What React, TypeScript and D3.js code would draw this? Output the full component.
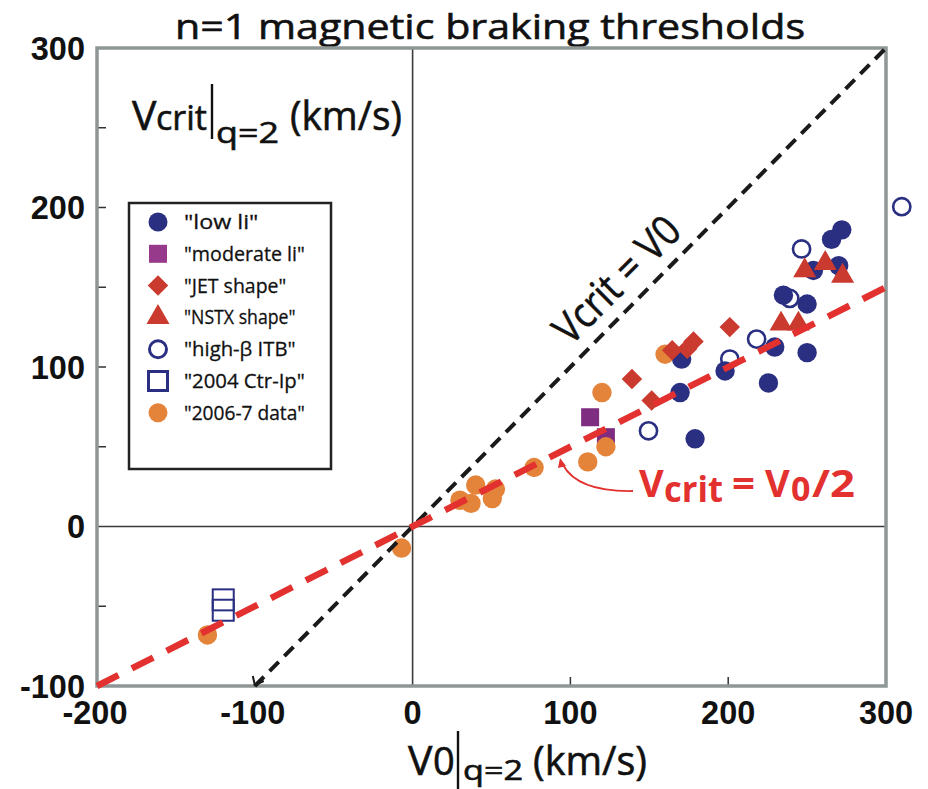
import React from "react";
import * as d3 from "d3";

const W = 928;
const H = 789;

// ---- data (V0, Vcrit) in km/s ----
const lowLi: [number, number][] = [
  [272, 186], [265.5, 180], [270, 163.5], [254, 160.5], [235, 145], [250, 139.5],
  [229.5, 112.5], [250, 109], [170.5, 105], [198, 97.5], [225.5, 90], [169.5, 84], [179, 55],
];
const moderateLi: [number, number][] = [[112.5, 68.5], [122.5, 56]];
const jetShape: [number, number][] = [
  [201, 125], [178, 116], [174, 111.5], [164.5, 110.5], [139, 92.5], [151.5, 79],
];
const nstxShape: [number, number][] = [
  [261.5, 165], [248.5, 160.5], [272.5, 157], [233.5, 127], [244.5, 127],
];
const highBetaITB: [number, number][] = [
  [310, 200.5], [246.5, 174], [239, 143], [218, 117.5], [201, 105], [149.5, 60],
];
const ctrIp2004: [number, number][] = [[-120, -46], [-120, -52.5]];
const data20067: [number, number][] = [
  [-130, -68], [-7, -13.5], [30, 16.5], [37, 14.5], [40, 26], [50.5, 17.5], [52.5, 23.5],
  [77, 37], [111, 40.5], [120, 84], [122.5, 50], [160, 108],
];

const legendLabels = [
  '"low li"', '"moderate li"', '"JET shape"', '"NSTX shape"',
  '"high-β ITB"', '"2004 Ctr-Ip"', '"2006-7 data"',
];

const xTickLabels = [-200, -100, 0, 100, 200, 300];
const yTickLabels = [300, 200, 100, 0, -100];
const xMinorTicks = [100, 200];
const yMinorTicks = [250, 200, 150, 100, 50, -50];

const lineEqual: [number, number][] = [[-100, -100], [300, 300]];
const lineHalf: [number, number][] = [[-200, -100], [300, 150]];

// ---- styles ----
const NAVY = "#2a2f82";
const PURPLE = "#7e2d80";
const RED = "#cb3a2e";
const ORANGE = "#e4833a";
const RED_LINE = "#e2312f";
const FRAME = "#8e9696";
const SANS = "'Open Sans', 'Noto Sans', sans-serif";
const BOLD = "'Liberation Sans', Arial, sans-serif";
const INK = "#111";

export default function App() {
  const x = d3.scaleLinear().domain([-200, 300]).range([97, 886]);
  const y = d3.scaleLinear().domain([-100, 300]).range([686, 48]);
  const line = d3
    .line<[number, number]>()
    .x((d) => x(d[0]))
    .y((d) => y(d[1]));

  const tri = d3.symbol().type(d3.symbolTriangle).size(230)() as string;
  const dia = d3.symbol().type(d3.symbolSquare).size(210)() as string;

  const tipX = x(lineEqual[0][0]);
  const tipY = y(lineEqual[0][1]);

  const legendX = 158;
  const legendY0 = 222;
  const legendDy = 31.8;

  const legendMarker = (i: number) => {
    const cy = legendY0 + i * legendDy;
    switch (i) {
      case 0:
        return <circle cx={legendX} cy={cy} r={9.5} fill={NAVY} />;
      case 1:
        return <rect x={legendX - 9} y={cy - 9} width={18} height={18} fill="#983a8c" />;
      case 2:
        return <path d={dia} transform={`translate(${legendX},${cy}) rotate(45)`} fill={RED} />;
      case 3:
        return <path d={tri} transform={`translate(${legendX},${cy})`} fill={RED} />;
      case 4:
        return <circle cx={legendX} cy={cy} r={8.5} fill="none" stroke={NAVY} strokeWidth={3} />;
      case 5:
        return <rect x={legendX - 9.5} y={cy - 9.5} width={19} height={19} fill="none" stroke={NAVY} strokeWidth={3} />;
      default:
        return <circle cx={legendX} cy={cy} r={9.5} fill={ORANGE} />;
    }
  };

  return (
    <svg width={W} height={H} style={{ position: "absolute", left: 0, top: 0, background: "#fff" }}>
      {/* title */}
      <text x={490} y={38.5} textAnchor="middle" fontFamily={SANS} fontSize={35} fill={INK}
        stroke={INK} strokeWidth={0.6} textLength={630} lengthAdjust="spacingAndGlyphs">
        n=1 magnetic braking thresholds
      </text>

      {/* zero lines */}
      <line x1={x(0)} x2={x(0)} y1={y(300)} y2={y(-100)} stroke="#3a3a3a" strokeWidth={1.6} />
      <line x1={x(-200)} x2={x(300)} y1={y(0)} y2={y(0)} stroke="#3a3a3a" strokeWidth={1.6} />

      {/* minor ticks */}
      {yMinorTicks.map((v) => (
        <line key={"yt" + v} x1={x(-200)} x2={x(-200) + 9} y1={y(v)} y2={y(v)} stroke="#333" strokeWidth={1.5} />
      ))}
      {xMinorTicks.map((v) => (
        <line key={"xt" + v} x1={x(v)} x2={x(v)} y1={y(-100)} y2={y(-100) - 9} stroke="#333" strokeWidth={1.5} />
      ))}

      {/* frame */}
      <rect x={x(-200)} y={y(300)} width={x(300) - x(-200)} height={y(-100) - y(300)}
        fill="none" stroke={FRAME} strokeWidth={3.5} />

      {/* tick labels */}
      {yTickLabels.map((v) => (
        <text key={"yl" + v} x={85} y={y(v) + 11.5} textAnchor="end" fontFamily={BOLD}
          fontWeight="bold" fontSize={32.5} fill={INK}>{v}</text>
      ))}
      {xTickLabels.map((v) => (
        <text key={"xl" + v} x={x(v) - (v < 0 ? 2 : 0)} y={724} textAnchor="middle" fontFamily={BOLD}
          fontWeight="bold" fontSize={32.5} fill={INK}>{v}</text>
      ))}

      {/* y title */}
      <g fontFamily={SANS} fill={INK} stroke={INK} strokeWidth={0.6}>
        <text x={132} y={130} fontSize={41}>V</text>
        <text x={156} y={130} fontSize={35} textLength={51} lengthAdjust="spacingAndGlyphs">crit</text>
        <line x1={212} x2={212} y1={84} y2={139} stroke={INK} strokeWidth={2.4} />
        <text x={216} y={143} fontSize={29} textLength={63} lengthAdjust="spacingAndGlyphs">q=2</text>
        <text x={290} y={130} fontSize={41} textLength={112} lengthAdjust="spacingAndGlyphs">(km/s)</text>
      </g>

      {/* x title */}
      <g fontFamily={SANS} fill={INK} stroke={INK} strokeWidth={0.6}>
        <text x={408} y={775} fontSize={41}>V</text>
        <text x={433} y={775} fontSize={38}>0</text>
        <line x1={458} x2={458} y1={731} y2={789} stroke={INK} strokeWidth={2.4} />
        <text x={463} y={780} fontSize={27} textLength={60} lengthAdjust="spacingAndGlyphs">q=2</text>
        <text x={533} y={775} fontSize={41} textLength={114} lengthAdjust="spacingAndGlyphs">(km/s)</text>
      </g>

      {/* legend */}
      <rect x={129} y={203} width={202} height={266} fill="#fff" stroke="#222" strokeWidth={2.5} />
      {legendLabels.map((lab, i) => (
        <g key={lab}>
          {legendMarker(i)}
          <text x={184} y={legendY0 + i * legendDy + 7} fontFamily={SANS} fontSize={20.5} fill={INK}
            stroke={INK} strokeWidth={0.3} textLength={lab.length * 9.3} lengthAdjust="spacingAndGlyphs">{lab}</text>
        </g>
      ))}

      {/* markers */}
      {moderateLi.map((d, i) => (
        <rect key={"m" + i} x={x(d[0]) - 9} y={y(d[1]) - 9} width={18} height={18} fill={PURPLE} />
      ))}
      {data20067.map((d, i) => (
        <circle key={"o" + i} cx={x(d[0])} cy={y(d[1])} r={9.7} fill={ORANGE} />
      ))}
      {lowLi.map((d, i) => (
        <circle key={"l" + i} cx={x(d[0])} cy={y(d[1])} r={9.7} fill={NAVY} />
      ))}
      {highBetaITB.map((d, i) => (
        <circle key={"h" + i} cx={x(d[0])} cy={y(d[1])} r={8.6} fill="none" stroke={NAVY} strokeWidth={2.6} />
      ))}
      {ctrIp2004.map((d, i) => (
        <rect key={"c" + i} x={x(d[0]) - 10.5} y={y(d[1]) - 10.5} width={21} height={21}
          fill="none" stroke={NAVY} strokeWidth={2} />
      ))}
      {jetShape.map((d, i) => (
        <path key={"j" + i} d={dia} transform={`translate(${x(d[0])},${y(d[1])}) rotate(45)`} fill={RED} />
      ))}
      {nstxShape.map((d, i) => (
        <path key={"n" + i} d={tri} transform={`translate(${x(d[0])},${y(d[1])})`} fill={RED} />
      ))}

      {/* reference lines */}
      <path d={line(lineEqual) as string} fill="none" stroke="#1a1a1a" strokeWidth={4} strokeDasharray="13 8" />
      <polyline points={`${tipX - 2},${tipY - 10} ${tipX},${tipY - 1} ${tipX + 9},${tipY - 5}`}
        fill="none" stroke="#1a1a1a" strokeWidth={2} />
      <path d={line(lineHalf) as string} fill="none" stroke={RED_LINE} strokeWidth={6.5} strokeDasharray="24 15" />

      {/* Vcrit = V0 label */}
      <text transform="translate(627,290) rotate(-45)" textAnchor="middle" fontFamily={SANS}
        fontSize={42} fill={INK} stroke={INK} strokeWidth={0.6} textLength={160} lengthAdjust="spacingAndGlyphs">
        Vcrit = V0
      </text>

      {/* Vcrit = V0/2 label */}
      <g fontFamily={SANS} fontWeight="bold" fill={RED_LINE}>
        <text x={639} y={497} fontSize={38}>V</text>
        <text x={664} y={502} fontSize={36} textLength={59} lengthAdjust="spacingAndGlyphs">crit</text>
        <text x={732} y={497} fontSize={38} textLength={23} lengthAdjust="spacingAndGlyphs">=</text>
        <text x={765} y={497} fontSize={38}>V</text>
        <text x={791} y={501} fontSize={34}>0</text>
        <text x={812} y={497} fontSize={38} textLength={43} lengthAdjust="spacingAndGlyphs">/2</text>
      </g>
      <path d="M633,491 Q578,492 563,465" fill="none" stroke={RED_LINE} strokeWidth={1.8} />
      <path d="M560,458 L558,468 L566,466 Z" fill={RED_LINE} />
    </svg>
  );
}
